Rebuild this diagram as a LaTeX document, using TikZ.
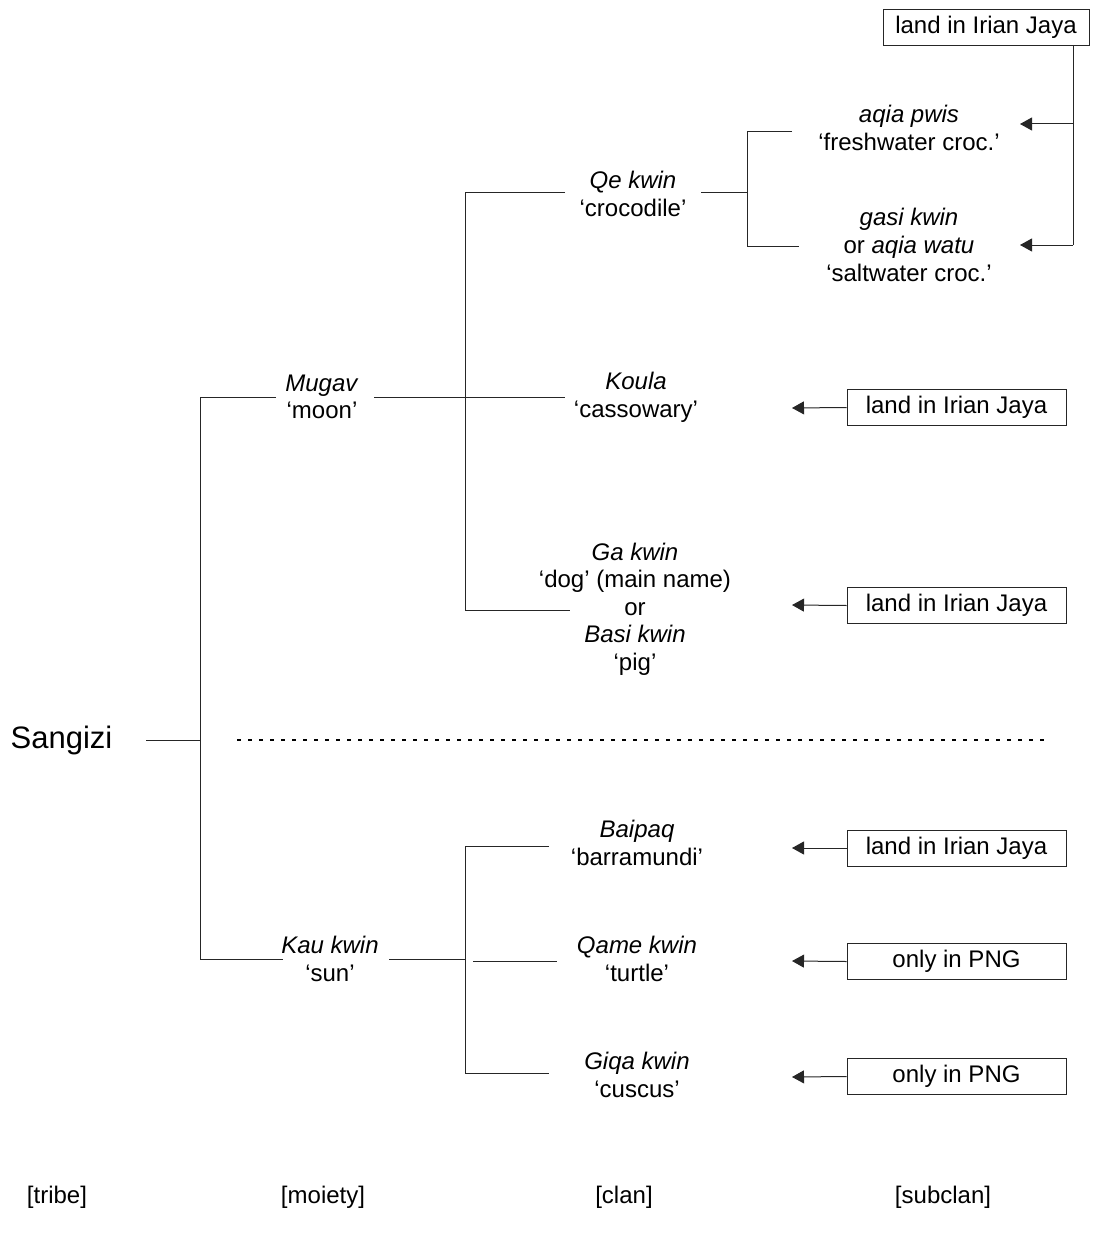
\documentclass[tikz,border=0pt]{standalone}
\usepackage{fontspec}
\setmainfont{Liberation Sans}
\usetikzlibrary{arrows.meta}
\begin{document}
\begin{tikzpicture}[x=1pt,y=-1pt,
  every node/.style={font=\fontsize{24}{27.6}\selectfont, inner sep=0pt, align=center},
  conn/.style={line width=1pt, draw=black!85},
  arr/.style={conn, -{Triangle[length=12pt,width=13pt]}},
  boxnode/.style={draw=black!85, line width=1pt, minimum height=36pt, minimum width=219pt},
  dots/.style={line width=2pt, dash pattern=on 4pt off 7pt}
]
\useasboundingbox (0,0) rectangle (1102,1236);

% texts
\node (sangizi) at (61.5,740) {\fontsize{31}{36}\selectfont Sangizi};
\node (mugav) at (322,397) {\textit{Mugav}\\‘moon’};
\node (kau) at (330,959) {\textit{Kau kwin}\\‘sun’};
\node (qe) at (633,194) {\textit{Qe kwin}\\‘crocodile’};
\node (koula) at (636,397) {\textit{Koula}\\‘cassowary’};
\node (ga) at (635,609) {\textit{Ga kwin}\\‘dog’ (main name)\\or\\\textit{Basi kwin}\\‘pig’};
\node (aqia) at (909,128) {\textit{aqia pwis}\\‘freshwater croc.’};
\node (gasi) at (909,245) {\textit{gasi kwin}\\or \textit{aqia watu}\\‘saltwater croc.’};
\node (baipaq) at (637,843) {\textit{Baipaq}\\‘barramundi’};
\node (qame) at (637,959) {\textit{Qame kwin}\\‘turtle’};
\node (giqa) at (637,1075) {\textit{Giqa kwin}\\‘cuscus’};

% boxes
\node[boxnode, minimum width=206pt] (b0) at (986,27.5) {land in Irian Jaya};
\node[boxnode] (b1) at (956.5,407.5) {land in Irian Jaya};
\node[boxnode] (b2) at (956.5,605.5) {land in Irian Jaya};
\node[boxnode] (b3) at (956.5,848) {land in Irian Jaya};
\node[boxnode] (b4) at (956.5,961.5) {only in PNG};
\node[boxnode] (b5) at (956.5,1076.5) {only in PNG};

% bottom labels
\node (ltribe) at (57,1197) {[tribe]};
\node (lmoiety) at (323,1197) {[moiety]};
\node (lclan) at (624,1197) {[clan]};
\node (lsub) at (943,1197) {[subclan]};

% coordinates
\coordinate (sgE) at (146,740);
\coordinate (tJ) at (200,740);
\coordinate (tTop) at (200,397);
\coordinate (tBot) at (200,959);
\coordinate (mW) at (276,397);
\coordinate (mE) at (374,397);
\coordinate (kW) at (283,959);
\coordinate (kE) at (389,959);
\coordinate (cTop) at (465,192);
\coordinate (cBot) at (465,610);
\coordinate (qeW) at (565,192);
\coordinate (koW) at (565,397);
\coordinate (gaW) at (570,610);
\coordinate (qeE) at (701,192);
\coordinate (sJ) at (747,192);
\coordinate (sTop) at (747,132);
\coordinate (sBot) at (747,246);
\coordinate (aqW) at (792,132);
\coordinate (gsW) at (799,246);
\coordinate (rTop) at (1073,45);
\coordinate (rMid) at (1073,124);
\coordinate (rBot) at (1073,245);
\coordinate (aqE) at (1020,124);
\coordinate (gsE) at (1020,245);
\coordinate (koE) at (792,408);
\coordinate (gaE) at (792,605);
\coordinate (bTop) at (465,846);
\coordinate (bBot) at (465,1073);
\coordinate (bMid) at (465,959);
\coordinate (baW) at (549,846);
\coordinate (qaW1) at (473,961);
\coordinate (qaW) at (557,961);
\coordinate (giW) at (549,1073);
\coordinate (baE) at (792,848);
\coordinate (qaE) at (792,961);
\coordinate (giE) at (792,1077);
\coordinate (dL) at (237,740);
\coordinate (dR) at (1048,740);

% tree lines
\draw[conn] (sgE) -- (tJ);
\draw[conn] (mW) -- (tTop) -- (tBot) -- (kW);
\draw[conn] (mE) -- (koW);
\draw[conn] (kE) -- (bMid);
\draw[conn] (qeW) -- (cTop) -- (cBot) -- (gaW);
\draw[conn] (qeE) -- (sJ);
\draw[conn] (aqW) -- (sTop) -- (sBot) -- (gsW);
\draw[conn] (baW) -- (bTop) -- (bBot) -- (giW);
\draw[conn] (qaW1) -- (qaW);

% arrows from subclan boxes
\draw[conn] (rTop) -- (rBot);
\draw[arr] (rMid) -- (aqE);
\draw[arr] (rBot) -- (gsE);
\draw[arr] (b1.west) -- (koE);
\draw[arr] (b2.west) -- (gaE);
\draw[arr] (b3.west) -- (baE);
\draw[arr] (b4.west) -- (qaE);
\draw[arr] (b5.west) -- (giE);

% moiety divider
\draw[dots] (dL) -- (dR);
\end{tikzpicture}
\end{document}
